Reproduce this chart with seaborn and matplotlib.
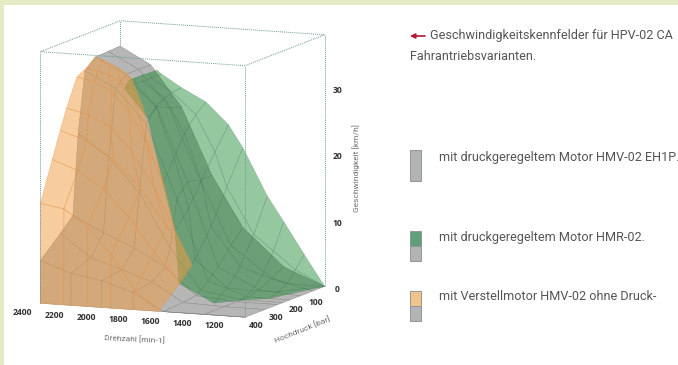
import matplotlib
matplotlib.use("Agg")
import numpy as np
import matplotlib.pyplot as plt
from matplotlib.patches import Rectangle
from mpl_toolkits.mplot3d import proj3d
import seaborn as sns

sns.set_theme(style="white")
plt.rcParams['font.family'] = ['Open Sans', 'DejaVu Sans']

rpm_ticks = [2400, 2200, 2000, 1800, 1600, 1400, 1200]
bar_ticks = [100, 200, 300, 400]
speed_ticks = [0, 10, 20, 30]
RPM_LIM = (2400, 1119)
BAR_LIM = (400, 0)
SPEED_LIM = (0, 37.8)

grey_rpm = [2400, 2208, 2016, 1824, 1631, 1375, 1119]
grey_bar = [400, 399, 300, 236, 210, 176, 124, 60, 0]
grey_speed = [
    [0, 0, 0, 0, 0, 0, 0],
    [6.4, 4.8, 4.0, 2.6, 0, 0, 0],
    [9.3, 6, 4.5, 3, 0.2, 0, 0],
    [11.3, 9, 7, 4.5, 0.5, 0, 0],
    [23.3, 20, 15, 7, 1, 0, 0],
    [32.3, 30, 25, 14, 2, 0, 0],
    [33.8, 31.5, 27, 16, 3.5, 0.5, 0],
    [33.9, 31.5, 26, 15.5, 6, 1.5, 0],
    [34, 31.5, 25.5, 15.5, 8, 2.5, 0],
]

green_rpm = [
    [2169] * 5, [2144] * 5, [2016] * 5, [1862] * 5, [1721] * 5,
    [1631] * 5, [1478] * 5, [1375] * 5, [1247] * 5, [1119] * 5,
]
green_bar = [
    [140, 104, 72, 36, 0],
    [184, 140, 92, 48, 0],
    [168, 128, 84, 44, 0],
    [216, 160, 108, 52, 0],
    [268, 200, 136, 68, 0],
    [320, 240, 160, 80, 0],
    [268, 200, 136, 68, 0],
    [216, 160, 108, 52, 0],
    [172, 128, 88, 44, 0],
    [0, 0, 0, 0, 0],
]
green_speed = [
    [30.9, 30.9, 30.9, 30.8, 30.8],
    [30.2, 30.3, 30.2, 30.2, 30.3],
    [25.7, 27, 27.8, 28.2, 28.4],
    [16.7, 20, 23, 25.2, 26.5],
    [10.5, 13, 16.5, 20, 23.3],
    [3.3, 6, 10, 15, 20],
    [0, 1.5, 4, 8, 13],
    [0, 0.8, 2.5, 5.5, 9.3],
    [0, 0.5, 1.2, 2.8, 4.6],
    [0, 0, 0, 0, 0],
]

orange_rpm = [
    [2400, 2253, 2105, 1958, 1811, 1662],
    [2400, 2253, 2105, 1958, 1811, 1662],
    [2400, 2240, 2080, 1920, 1760, 1601],
    [2400, 2233, 2067, 1900, 1734, 1575],
    [2400, 2264, 2128, 1993, 1857, 1721],
    [2400, 2290, 2180, 2070, 1959, 1849],
    [2400, 2330, 2259, 2187, 2118, 2046],
    [2400, 2354, 2308, 2262, 2216, 2169],
]
orange_bar = [
    [400] * 6, [399] * 6, [340] * 6, [300] * 6,
    [268] * 6, [216] * 6, [168] * 6, [124] * 6,
]
orange_speed = [
    [0, 0, 0, 0, 0, 0],
    [15, 14.4, 12, 8, 3, 0],
    [20.9, 19.5, 17, 13, 8, 3.6],
    [24.8, 23.5, 21, 17, 11.5, 5.9],
    [27.8, 27, 25.5, 22, 17, 10.5],
    [31.9, 31.3, 30, 27, 22.5, 16],
    [32.7, 32.3, 31.8, 31, 29.5, 27.3],
    [33.8, 33.5, 33, 32.5, 31.8, 30.9],
]

title_lines = ["Geschwindigkeitskennfelder für HPV-02 CA", "Fahrantriebsvarianten."]
legend_labels = ["mit druckgeregeltem Motor HMV-02 EH1P.",
                 "mit druckgeregeltem Motor HMR-02.",
                 "mit Verstellmotor HMV-02 ohne Druck-"]

W, H = 678, 365
fig = plt.figure(figsize=(W / 100, H / 100), dpi=100, facecolor="white")


def fx(px):
    return px / W


def fy(py):
    return 1 - py / H


fig.add_artist(Rectangle((0, fy(5)), 1, 5 / H, transform=fig.transFigure, fc="#e4ebc5", ec="none"))
fig.add_artist(Rectangle((0, 0), 4 / W, 1, transform=fig.transFigure, fc="#e4ebc5", ec="none"))

side = 338
ax = fig.add_axes([8.9 / W, 22.4 / H, side / W, side / H], projection="3d", proj_type="ortho",
                  computed_zorder=False)
ax.view_init(elev=9.36, azim=-67.2)
ax.set_box_aspect((222, 206, 255), zoom=1.137)
ax.set_xlim(*RPM_LIM, view_margin=0)
ax.set_ylim(*BAR_LIM, view_margin=0)
ax.set_zlim(*SPEED_LIM, view_margin=0)
ax.set_axis_off()
ax.patch.set_alpha(0)

grey_x, grey_y = np.meshgrid(grey_rpm, grey_bar)
ax.plot_surface(grey_x, grey_y, np.array(grey_speed), rstride=1, cstride=1, color="#b6b6b6", shade=False,
                edgecolor="#8f8c88", linewidth=0.35, zorder=1)
ax.plot_surface(np.array(green_rpm), np.array(green_bar), np.array(green_speed), rstride=1, cstride=1,
                color=(0.08, 0.52, 0.17, 0.45), shade=False, edgecolor=(0.2, 0.42, 0.30, 0.30),
                linewidth=0.35, zorder=2)
ax.plot_surface(np.array(orange_rpm), np.array(orange_bar), np.array(orange_speed), rstride=1, cstride=1,
                color=(0.94, 0.61, 0.25, 0.50), shade=False, edgecolor=(0.90, 0.58, 0.28, 0.55),
                linewidth=0.4, zorder=3)

box = dict(color="#6f9a98", lw=0.7, ls=(0, (1, 1)), zorder=4)
r0, r1 = RPM_LIM
b0, b1 = BAR_LIM
s1 = SPEED_LIM[1]
ax.plot([r0, r1, r1, r0, r0], [b0, b0, b1, b1, b0], [s1] * 5, **box)
ax.plot([r0, r0], [b0, b0], SPEED_LIM, **box)
ax.plot([r1, r1], [b0, b0], SPEED_LIM, **box)
ax.plot([r1, r1], [b1, b1], SPEED_LIM, **box)
ax.plot([r0, r0], [b1, b1], [34, s1], **box)

tick = dict(fontsize=6.2, color="#333333", ha="center", va="center", fontweight="bold", zorder=5)
proj = ax.get_proj()


def label3d(x, y, z, s):
    # place a label through the axes' own 3D scales, as a flat text
    px, py, _ = proj3d.proj_transform(x, y, z, proj)
    ax.text2D(px, py, s, transform=ax.transData, **tick)


for r in rpm_ticks:
    label3d(r, 490, -0.4, str(r))
for b in bar_ticks:
    label3d(1049, b, -1.1, str(b))
for z in speed_ticks:
    label3d(1038, 0, z - 0.4, str(z))

lab = dict(fontsize=6.0, color="#6e6e6e", ha="center", va="center", fontfamily="Roboto")
fig.text(fx(135), fy(339), "Drehzahl [min-1]", rotation=-3, **lab)
fig.text(fx(302), fy(330), "Hochdruck [bar]", rotation=22, **lab)
fig.text(fx(356), fy(168), "Geschwindigkeit [km/h]", rotation=90, **lab)

txt = dict(fontsize=9.1, color="#555555", va="center", ha="left", fontfamily="Roboto")
fig.text(fx(430), fy(36), title_lines[0], **txt)
fig.text(fx(410), fy(57), title_lines[1], **txt)
for label, y in zip(legend_labels, [157, 237, 297]):
    fig.text(fx(439), fy(y), label, **txt)

fig.add_artist(plt.Annotation("", xy=(fx(410), fy(36)), xytext=(fx(425), fy(36)),
                              xycoords="figure fraction", textcoords="figure fraction",
                              arrowprops=dict(arrowstyle="-|>", color="#b0192e", lw=1.2, mutation_scale=7,
                                              shrinkA=0, shrinkB=0)))


def swatch(y0, y1, color):
    fig.add_artist(Rectangle((fx(410), fy(y1)), 11 / W, (y1 - y0) / H, transform=fig.transFigure,
                             fc=color, ec="#8b9a98", lw=0.7))


swatch(150, 181, "#b2b3b2")
swatch(231, 246, "#5f9e78")
swatch(246, 261, "#b2b3b2")
swatch(291, 306, "#f0c48c")
swatch(306, 321, "#b2b3b2")

fig.savefig("out.png", dpi=100)
